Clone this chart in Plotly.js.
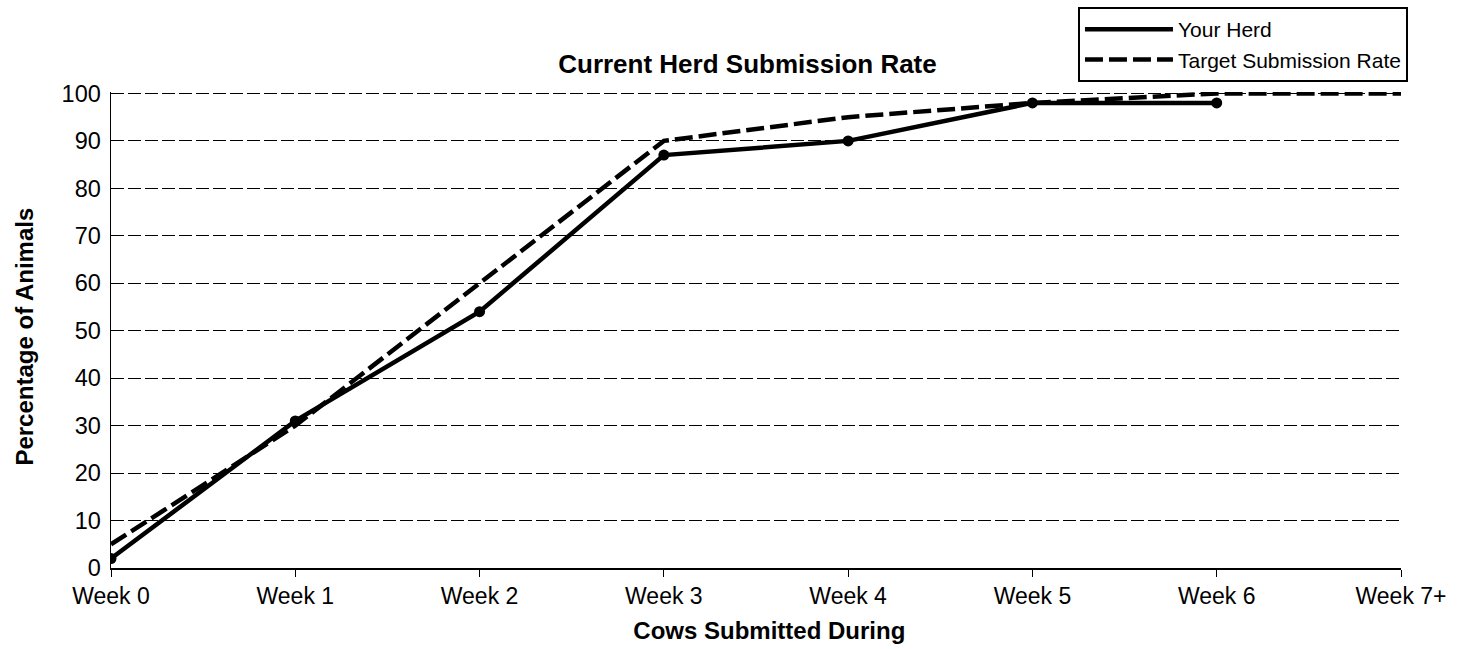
<!DOCTYPE html>
<html>
<head>
<meta charset="utf-8">
<script src="https://cdn.plot.ly/plotly-3.0.1.min.js"></script>
<style>
html,body{margin:0;padding:0;background:#fff;}
#chart{width:1471px;height:649px;}
</style>
</head>
<body>
<div id="chart"></div>
<script>
const weeks = ["Week 0","Week 1","Week 2","Week 3","Week 4","Week 5","Week 6","Week 7+"];
const herdWeeks = ["Week 0","Week 1","Week 2","Week 3","Week 4","Week 5","Week 6"];
const yourHerd = [2, 31, 54, 87, 90, 98, 98];
const targetRate = [5, 30, 60, 90, 95, 98, 100, 100];
const yTicks = [0,10,20,30,40,50,60,70,80,90,100];

const FONT = "Arial, 'Liberation Sans', sans-serif";

const traces = [
  {
    x: herdWeeks, y: yourHerd, name: "Your Herd", type: "scatter", mode: "lines",
    line: {color: "#000", width: 4.5}
  },
  {
    x: weeks, y: targetRate, name: "Target Submission Rate", type: "scatter", mode: "lines",
    line: {color: "#000", width: 4.5, dash: "18px,6px"}
  },
  {
    x: herdWeeks, y: yourHerd, name: "Your Herd", type: "scatter", mode: "markers",
    marker: {color: "#000", size: 11, symbol: "circle"}, showlegend: false
  }
];

const layout = {
  width: 1471, height: 649,
  paper_bgcolor: "#fff", plot_bgcolor: "#fff",
  margin: {l: 111, r: 70, t: 92, b: 81, autoexpand: false},
  font: {family: FONT, color: "#000", size: 23},
  title: {text: "<b>Current Herd Submission Rate</b>", font: {family: FONT, size: 26, color: "#000"},
          x: 0.4934, xref: "paper", y: 1 - 64/649, yref: "container", yanchor: "middle", xanchor: "center"},
  xaxis: {
    type: "category", categoryorder: "array", categoryarray: weeks,
    range: [0, 7], showgrid: false, zeroline: false,
    showline: true, linecolor: "#000", linewidth: 1.5,
    ticks: "outside", ticklen: 7, tickcolor: "#000", tickwidth: 1,
    tickfont: {family: FONT, size: 23, color: "#000"},
    title: {text: "<b>&nbsp;&nbsp;&nbsp;&nbsp;Cows Submitted During</b>", font: {family: FONT, size: 24, color: "#000"}, standoff: 14}
  },
  yaxis: {
    range: [0, 100.3], tickvals: yTicks, ticktext: yTicks.map(String),
    showgrid: true, gridcolor: "#000", gridwidth: 1, griddash: "13px,4px",
    zeroline: false, showline: true, linecolor: "#000", linewidth: 1.5,
    ticks: "", tickfont: {family: FONT, size: 23.5, color: "#000"}, ticklabelstandoff: 4,
    title: {text: "<b>Percentage of Animals&nbsp;&nbsp;</b>", font: {family: FONT, size: 24, color: "#000"}, standoff: 21}
  },
  showlegend: true,
  legend: {
    x: 1.0054, xanchor: "right", y: 1 - 7/649, yref: "container", yanchor: "top",
    bordercolor: "#000", borderwidth: 2, bgcolor: "#fff",
    font: {family: FONT, size: 21, color: "#000"},
    tracegroupgap: 0, itemwidth: 88
  }
};

Plotly.newPlot("chart", traces, layout, {displayModeBar: false, staticPlot: true});
</script>
</body>
</html>
